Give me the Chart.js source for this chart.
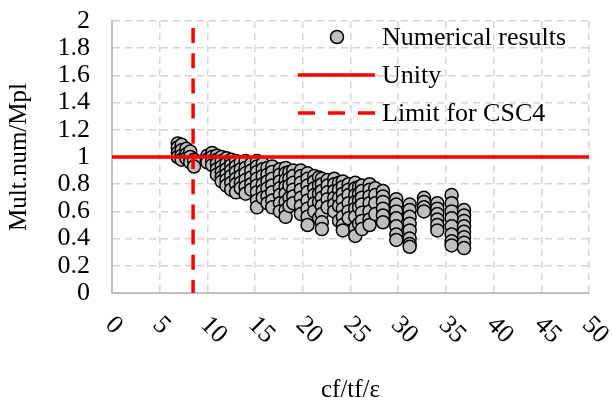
<!DOCTYPE html>
<html>
<head>
<meta charset="utf-8">
<script src="https://cdn.jsdelivr.net/npm/chart.js@4.4.1/dist/chart.umd.min.js"></script>
<style>
  body { margin: 0; background: #fff; }
  #wrap { width: 612px; height: 403px; }
</style>
</head>
<body>
<div id="wrap"><canvas id="chart" width="612" height="403"></canvas></div>
<script>
// numerical results
const colX = [6.9, 7.3, 7.8, 8.2, 8.6, 10.0, 10.5, 11.0, 11.5, 12.0, 12.5, 13.0, 13.5, 14.0,
  14.6, 15.2, 15.8, 16.3, 16.8, 17.6, 18.2, 18.6, 19.0, 19.8, 20.5, 21.2, 21.7, 22.0, 22.6,
  23.3, 23.8, 24.2, 24.8, 25.5, 25.9, 26.2, 27.0, 27.6, 28.4, 29.8, 31.2, 32.7, 34.1, 35.6, 36.9];
const colY = [
  [1.10, 1.07, 1.03, 1.00],
  [1.09, 1.05, 1.01, 0.98],
  [1.06, 1.02, 0.99],
  [1.04, 1.00, 0.96],
  [0.98, 0.93],
  [1.01, 0.98, 0.96],
  [1.03, 1.00, 0.97, 0.94],
  [1.01, 0.98, 0.95, 0.91, 0.87],
  [1.00, 0.97, 0.93, 0.89, 0.85, 0.82],
  [0.99, 0.95, 0.91, 0.87, 0.83, 0.79],
  [0.98, 0.94, 0.90, 0.86, 0.81, 0.76],
  [0.97, 0.93, 0.89, 0.84, 0.80, 0.74],
  [0.96, 0.91, 0.86, 0.81, 0.77],
  [0.97, 0.92, 0.88, 0.83, 0.78, 0.73],
  [0.95, 0.90, 0.85, 0.80, 0.76],
  [0.97, 0.93, 0.89, 0.84, 0.79, 0.74, 0.68, 0.63],
  [0.95, 0.91, 0.86, 0.80, 0.75, 0.70],
  [0.92, 0.87, 0.82, 0.77, 0.71, 0.66],
  [0.93, 0.89, 0.84, 0.79, 0.74, 0.68, 0.63],
  [0.91, 0.87, 0.82, 0.77, 0.72, 0.66, 0.60],
  [0.92, 0.88, 0.83, 0.78, 0.73, 0.67, 0.61, 0.56],
  [0.89, 0.84, 0.79, 0.70, 0.64],
  [0.90, 0.86, 0.81, 0.76, 0.71, 0.66],
  [0.90, 0.86, 0.81, 0.76, 0.70, 0.64, 0.58],
  [0.88, 0.84, 0.79, 0.74, 0.68, 0.62, 0.56, 0.50],
  [0.86, 0.82, 0.77, 0.72, 0.66, 0.60],
  [0.85, 0.79, 0.73, 0.67, 0.55],
  [0.84, 0.80, 0.75, 0.70, 0.64, 0.58, 0.52, 0.47],
  [0.83, 0.79, 0.74, 0.69, 0.63],
  [0.84, 0.80, 0.75, 0.70, 0.65, 0.60],
  [0.81, 0.76, 0.70, 0.64, 0.53],
  [0.82, 0.78, 0.73, 0.68, 0.62, 0.56, 0.50, 0.46],
  [0.80, 0.76, 0.72, 0.66, 0.60, 0.55],
  [0.81, 0.77, 0.72, 0.67, 0.62, 0.56, 0.48, 0.42],
  [0.78, 0.73, 0.68, 0.63, 0.51],
  [0.79, 0.75, 0.70, 0.65, 0.59, 0.53, 0.47],
  [0.80, 0.76, 0.71, 0.66, 0.60, 0.54, 0.50],
  [0.77, 0.72, 0.66, 0.58],
  [0.75, 0.71, 0.67, 0.62, 0.57, 0.52],
  [0.69, 0.65, 0.60, 0.55, 0.49, 0.43, 0.39],
  [0.65, 0.61, 0.56, 0.51, 0.46, 0.40, 0.36, 0.34],
  [0.70, 0.67, 0.63, 0.60],
  [0.66, 0.62, 0.58, 0.54, 0.50, 0.46],
  [0.72, 0.66, 0.60, 0.55, 0.49, 0.43, 0.38, 0.35],
  [0.61, 0.57, 0.53, 0.49, 0.45, 0.41, 0.37, 0.33]
];

const unityX = [0, 50];
const unityY = [1, 1];
const limitX = [8.5, 8.5];
const limitY = [2, 0];

const xTicks = [0, 5, 10, 15, 20, 25, 30, 35, 40, 45, 50];
const legendLabels = ["Numerical results", "Unity", "Limit for CSC4"];

const FONT = "'Liberation Serif', 'Times New Roman', serif";
const RED = "#ff0000";
const DASH = [15, 10.2];

const points = [];
colX.forEach((x, i) => {
  colY[i].forEach((y) => points.push({ x: x, y: y }));
});

// x tick labels are slanted the other way round than chart.js does it
const slantedTicks = {
  id: "slantedTicks",
  afterDraw(chart) {
    const ctx = chart.ctx;
    const xs = chart.scales.x;
    const top = chart.chartArea.bottom + 28;
    ctx.save();
    ctx.font = "26px " + FONT;
    ctx.fillStyle = "#000";
    ctx.textAlign = "left";
    ctx.textBaseline = "middle";
    xTicks.forEach((v) => {
      ctx.save();
      ctx.translate(xs.getPixelForValue(v) - 3, top);
      ctx.rotate(Math.PI / 4);
      ctx.fillText(String(v), 0, 0);
      ctx.restore();
    });
    ctx.restore();
  }
};

// legend sits inside the plot, top right
const innerLegend = {
  id: "innerLegend",
  afterDraw(chart) {
    const ctx = chart.ctx;
    const x0 = 298, x1 = 375, tx = 382;
    const rows = [37, 75, 113];
    ctx.save();
    ctx.font = "26px " + FONT;
    ctx.fillStyle = "#000";
    ctx.textBaseline = "middle";
    legendLabels.forEach((t, i) => ctx.fillText(t, tx, rows[i] + 1));

    ctx.beginPath();
    ctx.arc(337, rows[0], 6.5, 0, Math.PI * 2);
    ctx.fillStyle = "#bfbfbf";
    ctx.fill();
    ctx.lineWidth = 1.5;
    ctx.strokeStyle = "#000";
    ctx.stroke();

    ctx.strokeStyle = RED;
    ctx.lineWidth = 3.5;
    ctx.beginPath();
    ctx.moveTo(x0, rows[1]);
    ctx.lineTo(x1, rows[1]);
    ctx.stroke();
    ctx.setLineDash([17, 13]);
    ctx.beginPath();
    ctx.moveTo(x0, rows[2]);
    ctx.lineTo(x1, rows[2]);
    ctx.stroke();
    ctx.restore();
  }
};

const ctx = document.getElementById("chart").getContext("2d");
new Chart(ctx, {
  type: "scatter",
  data: {
    datasets: [
      {
        label: "Unity",
        type: "line",
        data: unityX.map((x, i) => ({ x: x, y: unityY[i] })),
        borderColor: RED,
        borderWidth: 3.5,
        pointRadius: 0,
        order: 0,
      },
      {
        label: "Limit for CSC4",
        type: "line",
        data: limitX.map((x, i) => ({ x: x, y: limitY[i] })),
        borderColor: RED,
        borderWidth: 3.5,
        borderDash: DASH,
        borderDashOffset: 18.2,
        pointRadius: 0,
        order: 0,
      },
      {
        label: "Numerical results",
        data: points,
        pointRadius: 6.5,
        pointHoverRadius: 6.5,
        pointBorderWidth: 1.5,
        borderColor: "#000",
        backgroundColor: "#bfbfbf",
        order: 1,
      },
    ],
  },
  options: {
    responsive: false,
    animation: false,
    layout: { padding: { left: 0, right: 23, top: 21, bottom: 0 } },
    plugins: {
      legend: { display: false },
      tooltip: { enabled: false },
    },
    scales: {
      x: {
        type: "linear",
        min: 0,
        max: 50,
        ticks: { display: false, stepSize: 5 },
        grid: { color: "#d4d4d4", lineWidth: 1.5, drawTicks: false },
        border: { color: "#bfbfbf", width: 2, dash: [7, 5] },
        title: {
          display: true,
          text: "cf/tf/ε",
          color: "#000",
          font: { family: FONT, size: 25, lineHeight: 1 },
          padding: { top: 0, bottom: 0 },
        },
        afterFit: (scale) => { scale.height = 110; },
      },
      y: {
        min: 0,
        max: 2,
        ticks: {
          stepSize: 0.2,
          autoSkip: false,
          color: "#000",
          padding: 0,
          font: { family: FONT, size: 26 },
          callback: (v) => String(+v.toFixed(1)),
        },
        // invisible tick marks just push the labels away from the axis
        grid: { color: "#d4d4d4", lineWidth: 1.5, drawTicks: true, tickLength: 22, tickColor: "rgba(0,0,0,0)" },
        border: { color: "#bfbfbf", width: 2, dash: [7, 5] },
        title: {
          display: true,
          text: "Mult.num/Mpl",
          color: "#000",
          font: { family: FONT, size: 25, lineHeight: 1.2 },
          padding: { top: 4, bottom: 0 },
        },
        afterFit: (scale) => { scale.width = 112; },
      },
    },
  },
  plugins: [slantedTicks, innerLegend],
});
</script>
</body>
</html>
